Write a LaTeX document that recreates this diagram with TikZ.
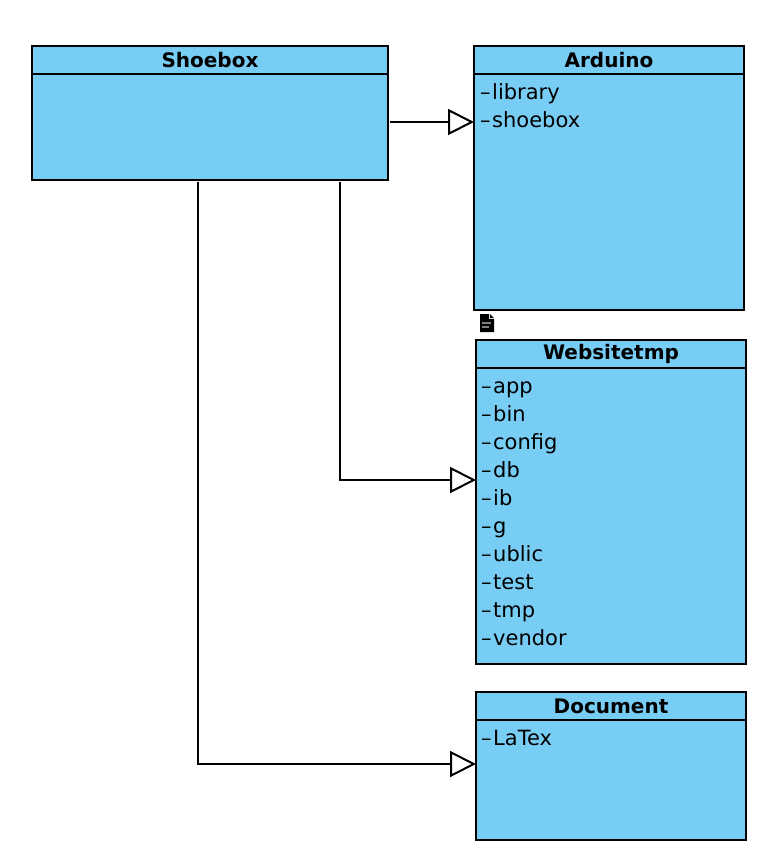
\documentclass[tikz,border=0pt]{standalone}
\usepackage{fontspec}
\setmainfont{DejaVu Sans}
\usetikzlibrary{positioning,calc,arrows.meta}
\definecolor{classblue}{HTML}{78CDF5}
\tikzset{
    every node/.style={font=\fontsize{21}{24}\selectfont},
    classbody/.style={draw=black, fill=classblue, line width=2pt, anchor=north west, inner sep=0pt},
    classtitle/.style={draw=black, fill=classblue, line width=2pt, anchor=north west, inner sep=0pt, minimum height=28pt, font=\fontsize{20}{24}\selectfont\bfseries},
    member/.style={anchor=base west, inner sep=0pt},
    arrow/.style={-{Triangle[open, fill=white, length=26pt, width=26pt, line width=2pt]}, line width=2pt},
}

\begin{document}
\begin{tikzpicture}[x=1pt, y=-1pt]
  \useasboundingbox (0,0) rectangle (784,868);
  \node[classbody, minimum width=356pt, minimum height=134pt] (shoebox) at (31,45) {};
  \node[classtitle, minimum width=356pt] (shoeboxtitle) at (31,45) {Shoebox};
  \node[classbody, minimum width=270pt, minimum height=264pt] (arduino) at (473,45) {};
  \node[classtitle, minimum width=270pt] (arduinotitle) at (473,45) {Arduino};
  \node[classbody, minimum width=270pt, minimum height=324pt] (website) at (475,339) {};
  \node[classtitle, minimum width=270pt] (websitetitle) at (475,339) {Websitetmp};
  \node[classbody, minimum width=270pt, minimum height=148pt] (document) at (475,691) {};
  \node[classtitle, minimum width=270pt] (documenttitle) at (475,691) {Document};

  \foreach \name/\ypos/\txt in {library/99/library, shoeboxdir/127/shoebox} {
    \node[member] (\name) at (480,\ypos) {–\hspace{1.5pt}\txt};
  }
  \foreach \name/\ypos/\txt in {app/393/app, bin/421/bin, config/449/config, db/477/db, ib/505/ib,
      g/533/g, ublic/561/ublic, test/589/test, tmp/617/tmp, vendor/645/vendor} {
    \node[member] (\name) at (481,\ypos) {–\hspace{1.5pt}\txt};
  }
  \node[member] (latex) at (481,745) {–\hspace{1.5pt}LaTex};

  \coordinate (ardout) at (390,122);
  \coordinate (webout) at (340,182);
  \coordinate (docout) at (198,182);
  \coordinate (ardin) at (474,122);
  \coordinate (webin) at (476,480);
  \coordinate (docin) at (476,764);
  \draw[arrow] (ardout) -- (ardin);
  \draw[arrow] (webout) |- (webin);
  \draw[arrow] (docout) |- (docin);

  % small page icon above Websitetmp
  \fill[black] (480,314) -- (489,314) -- (489,319) -- (494,319) -- (494,332) -- (480,332) -- cycle;
  \fill[black] (490,314) -- (494,318) -- (490,318) -- cycle;
  \fill[gray] (482,322) rectangle (491,323.5);
  \fill[gray] (482,326) rectangle (489,327.5);
\end{tikzpicture}
\end{document}
